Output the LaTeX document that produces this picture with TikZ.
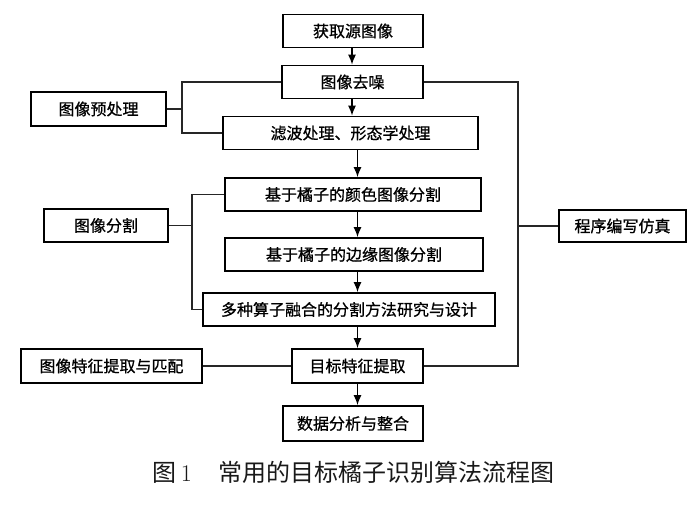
\documentclass[tikz,border=0pt]{standalone}
\usepackage{fontspec}
\newfontfamily\cjk{Noto Sans CJK SC}
\newfontfamily\cjkb{Noto Sans CJK SC}[FakeBold=0.8]
\usepackage{tikz}
\usetikzlibrary{arrows.meta, positioning, calc}

\begin{document}
\begin{tikzpicture}[x=1pt,y=-1pt,
  kuang/.style={draw, line width=1.6pt, inner sep=0pt, minimum height=33pt, font=\cjkb\fontsize{16}{16}\selectfont},
  lian/.style={line width=1.1pt, black!85},
  jian/.style={line width=1.5pt, -{Latex[length=10pt,width=8pt]}}]
\useasboundingbox (0,0) rectangle (700,505);

% main chain
\node[kuang, minimum width=140pt] (B1) at (353,31) {获取源图像};
\node[kuang, minimum width=141pt] (B2) at (352.5,82) {图像去噪};
\node[kuang, minimum width=255pt] (B3) at (350.5,133) {滤波处理、形态学处理};
\node[kuang, minimum width=256pt] (B4) at (353,194.5) {基于橘子的颜色图像分割};
\node[kuang, minimum width=258pt] (B5) at (354,254.5) {基于橘子的边缘图像分割};
\node[kuang, minimum width=292pt] (B6) at (349,309.5) {多种算子融合的分割方法研究与设计};
\node[kuang, minimum width=131pt, minimum height=34pt] (B7) at (357.5,366) {目标特征提取};
\node[kuang, minimum width=140pt, minimum height=35pt] (B8) at (353,423.5) {数据分析与整合};

% side boxes
\node[kuang, minimum width=135pt, minimum height=34pt] (L1) at (98.5,109) {图像预处理};
\node[kuang, minimum width=124pt] (L2) at (106,225.5) {图像分割};
\node[kuang, minimum width=181pt, minimum height=34pt] (L3) at (111.5,366) {图像特征提取与匹配};
\node[kuang, minimum width=127pt, minimum height=32pt] (R1) at (622.5,226) {程序编写仿真};

% arrows
\coordinate (A1) at (352,0);
\coordinate (A2) at (357.5,0);
\draw[jian] (B1.south -| A1) -- (B2.north -| A1);
\draw[jian] (B2.south -| A1) -- (B3.north -| A1);
\draw[jian] (B3.south -| A2) -- (B4.north -| A2);
\draw[jian] (B4.south -| A2) -- (B5.north -| A2);
\draw[jian] (B5.south -| A2) -- (B6.north -| A2);
\draw[jian] (B6.south -| A2) -- (B7.north -| A2);
\draw[jian] (B7.south -| A2) -- (B8.north -| A2);

% brackets
\coordinate (J1) at (182,109);
\coordinate (J2) at (192,225.5);
\coordinate (J3) at (518,226);
\draw[lian] (L1.east) -- (J1);
\draw[lian] (B2.west) -- (B2.west -| J1) -- (B3.west -| J1) -- (B3.west);
\draw[lian] (L2.east) -- (J2);
\draw[lian] (B4.west) -- (B4.west -| J2) -- (B6.west -| J2) -- (B6.west);
\draw[lian] (L3.east) -- (B7.west);
\draw[lian] (B2.east) -- (B2.east -| J3) -- (B7.east -| J3) -- (B7.east);
\draw[lian] (J3) -- (R1.west);

% caption
\node[font=\fontsize{24}{24}\selectfont, black!90] (T) at (353.5,472) {{\cjk 图}\,1\hspace{1.1em}{\cjk 常用的目标橘子识别算法流程图}};
\end{tikzpicture}
\end{document}
